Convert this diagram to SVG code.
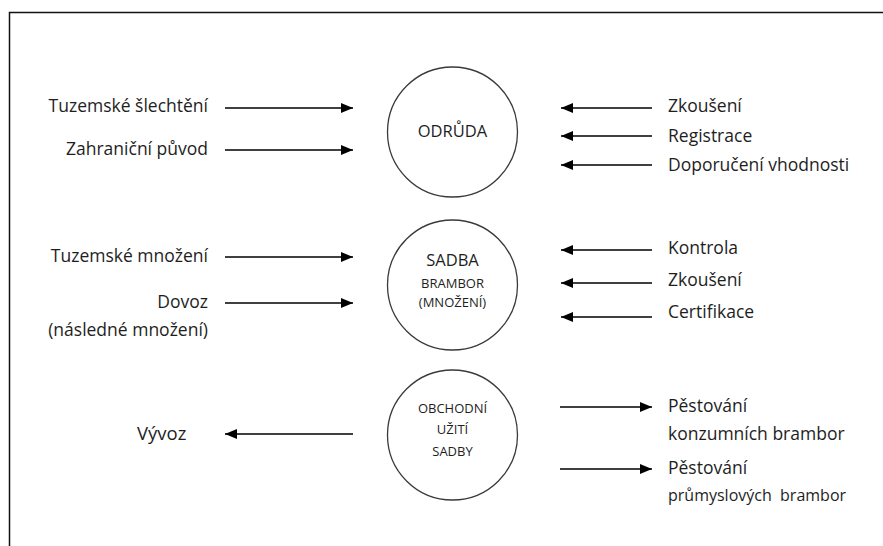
<svg xmlns="http://www.w3.org/2000/svg" width="883" height="546" viewBox="0 0 883 546">
<defs>
<marker id="ah" viewBox="0 0 12 10" refX="12" refY="5" markerWidth="12" markerHeight="10" markerUnits="userSpaceOnUse" orient="auto">
<path d="M0,0 L12,5 L0,10 Z" fill="#000"/>
</marker>
<style>
.t{font-family:"Open Sans","Noto Sans",sans-serif;font-size:17.5px;fill:#1e1e1e}
.r{text-anchor:end}
.c{text-anchor:middle}
.m{font-size:16.5px}
.s{font-size:13px}
.n{fill:none;stroke:#3a3a3a;stroke-width:1.3}
.a{stroke:#000;stroke-width:1.5;fill:none;marker-end:url(#ah)}
</style>
</defs>
<rect width="883" height="546" fill="#fff"/>
<path d="M9.5,546 V12.5 H883" fill="none" stroke="#111" stroke-width="1.5"/>
<g id="odruda">
<circle class="n" cx="452.5" cy="132" r="65"/>
<text class="t c m" x="452.5" y="137">ODRŮDA</text>
</g>
<g id="sadba">
<circle class="n" cx="452.5" cy="285" r="65"/>
<text class="t c m" x="452.5" y="266">SADBA</text>
<text class="t c s" x="452.5" y="288">BRAMBOR</text>
<text class="t c s" x="452.5" y="307">(MNOŽENÍ)</text>
</g>
<g id="obchod">
<circle class="n" cx="452.5" cy="435" r="65"/>
<text class="t c s" x="452.5" y="413">OBCHODNÍ</text>
<text class="t c s" x="452.5" y="434">UŽITÍ</text>
<text class="t c s" x="452.5" y="456">SADBY</text>
</g>
<g id="labels">
<text class="t r" x="208" y="112">Tuzemské šlechtění</text>
<text class="t r" x="208" y="155">Zahraniční původ</text>
<text class="t" x="668" y="112">Zkoušení</text>
<text class="t" x="668" y="142">Registrace</text>
<text class="t" x="668" y="171">Doporučení vhodnosti</text>
<text class="t r" x="208" y="262">Tuzemské množení</text>
<text class="t r" x="208" y="308">Dovoz</text>
<text class="t r" x="208" y="336">(následné množení)</text>
<text class="t" x="668" y="254">Kontrola</text>
<text class="t" x="668" y="286">Zkoušení</text>
<text class="t" x="668" y="318">Certifikace</text>
<text class="t" x="137" y="440" style="font-size:18.5px">Vývoz</text>
<text class="t" x="668" y="412">Pěstování</text>
<text class="t" x="668" y="440">konzumních brambor</text>
<text class="t" x="668" y="474">Pěstování</text>
<text class="t" x="668" y="501" style="font-size:16px" xml:space="preserve">průmyslových  brambor</text>
</g>
<g id="connectors">
<line class="a" x1="225" y1="108" x2="353" y2="108"/>
<line class="a" x1="225" y1="150" x2="353" y2="150"/>
<line class="a" x1="652" y1="108" x2="561" y2="108"/>
<line class="a" x1="652" y1="136" x2="561" y2="136"/>
<line class="a" x1="652" y1="165" x2="561" y2="165"/>
<line class="a" x1="225" y1="257" x2="353" y2="257"/>
<line class="a" x1="225" y1="303" x2="353" y2="303"/>
<line class="a" x1="652" y1="250" x2="561" y2="250"/>
<line class="a" x1="652" y1="283" x2="561" y2="283"/>
<line class="a" x1="652" y1="317" x2="561" y2="317"/>
<line class="a" x1="353" y1="434" x2="225" y2="434"/>
<line class="a" x1="560" y1="407" x2="652" y2="407"/>
<line class="a" x1="560" y1="469" x2="652" y2="469"/>
</g>
</svg>
